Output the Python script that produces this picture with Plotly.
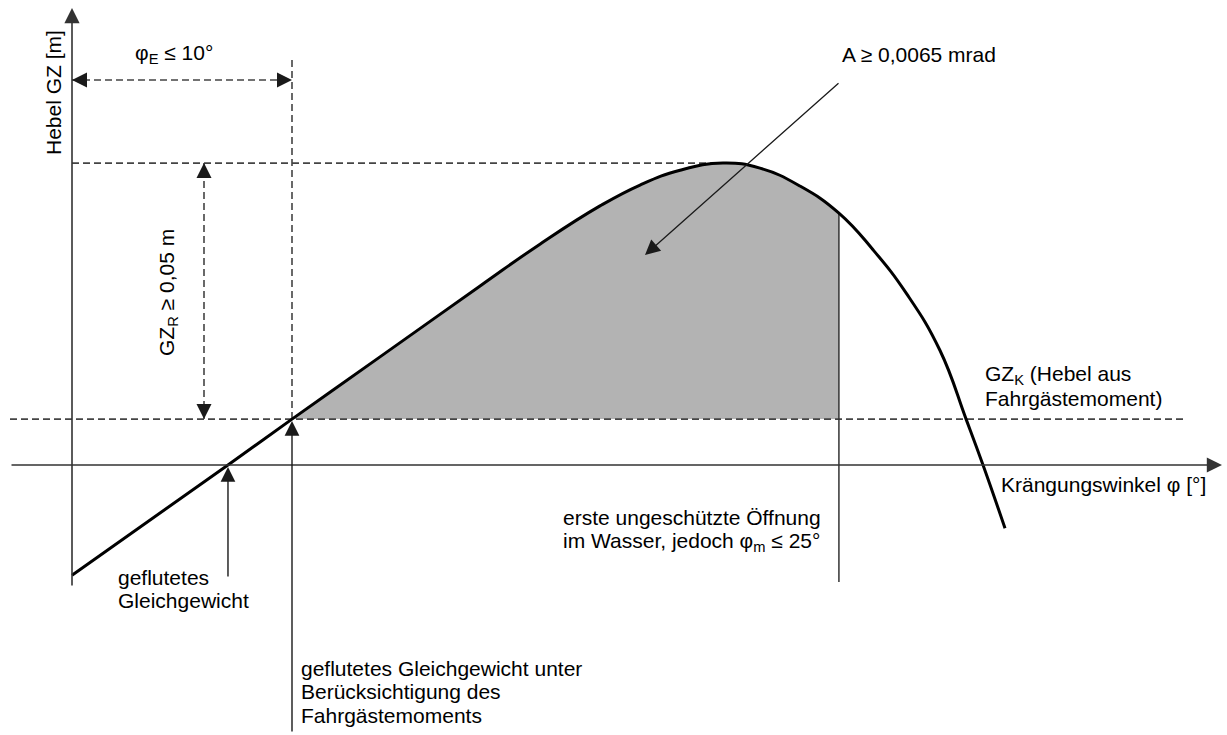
import plotly.graph_objects as go

# ---- data (heeling angle in degrees, righting lever GZ in m) ----
phi = [0.0, 7.09, 10.0, 14.0, 18.55, 21.27, 24.0, 25.82, 27.64, 29.59, 31.27, 33.09,
       34.86, 36.41, 37.95, 39.45, 40.64, 41.41, 42.41]
gz = [-0.0216, 0.0, 0.0090, 0.0212, 0.0351, 0.0433, 0.0508, 0.0549, 0.0578, 0.0592,
      0.0582, 0.0547, 0.0494, 0.0422, 0.0335, 0.0225, 0.0090, 0.0, -0.0124]
phi_E = 10.0        # flooded equilibrium incl. passenger moment
phi_eq = 7.09       # flooded equilibrium
phi_m = 34.86       # first unprotected opening
GZ_K = 0.0090       # heeling lever from passenger moment
GZ_max = 0.0592
phi_at_max = 29.59

W, H = 1227, 735
X0, Y0 = 72, 465          # pixel position of origin
SX, SY = 22.0, 5100.0     # px per degree, px per metre


def dx(px):
    return (px - X0) / SX


def dy(py):
    return (Y0 - py) / SY


FONT = "Liberation Sans, Arial, sans-serif"
AX_COL = "#333333"
DASH_COL = "#444444"
DASH = "7px,4px"
SMOOTH = 1.3

fig = go.Figure()

# shaded area between GZ curve and GZ_K from phi_E to phi_m
fx = [p for p in phi if phi_E <= p <= phi_m]
fy = [g for p, g in zip(phi, gz) if phi_E <= p <= phi_m]
fig.add_trace(go.Scatter(x=[phi_E, phi_m], y=[GZ_K, GZ_K], mode="lines",
                         line=dict(width=0), hoverinfo="skip"))
fig.add_trace(go.Scatter(x=fx, y=fy, mode="lines", fill="tonexty",
                         fillcolor="#b3b3b3",
                         line=dict(width=0, shape="spline", smoothing=SMOOTH),
                         hoverinfo="skip"))

# dashed reference lines
dl = dict(color=DASH_COL, width=1.6, dash=DASH)
fig.add_trace(go.Scatter(x=[dx(10), dx(1183)], y=[GZ_K, GZ_K], mode="lines", line=dl))
fig.add_trace(go.Scatter(x=[0, phi_at_max], y=[GZ_max, GZ_max], mode="lines", line=dl))
fig.add_trace(go.Scatter(x=[phi_E, phi_E], y=[GZ_K, dy(57)], mode="lines", line=dl))
# phi_E dimension line
yE = dy(80)
fig.add_trace(go.Scatter(x=[0, phi_E], y=[yE, yE], mode="lines", line=dl))
# GZ_R dimension line
xR = dx(204)
fig.add_trace(go.Scatter(x=[xR, xR], y=[GZ_K, GZ_max], mode="lines", line=dl))

# vertical line at phi_m
fig.add_trace(go.Scatter(x=[phi_m, phi_m], y=[gz[phi.index(phi_m)], dy(582)], mode="lines",
                         line=dict(color=AX_COL, width=1.5)))

# GZ curve
fig.add_trace(go.Scatter(x=phi, y=gz, mode="lines",
                         line=dict(color="black", width=3, shape="spline", smoothing=SMOOTH)))

annotations = []


def arrow(tip, tail, width=1.5, size=2.0, color="#1a1a1a", ref="x"):
    d = dict(x=tip[0], y=tip[1], xref="x", yref="y", text="", showarrow=True,
             arrowhead=2, arrowsize=size, arrowwidth=width, arrowcolor=color,
             standoff=0, startstandoff=0)
    if ref == "x":
        d.update(ax=tail[0], ay=tail[1], axref="x", ayref="y")
    else:
        d.update(ax=tail[0], ay=tail[1], axref="pixel", ayref="pixel")
    annotations.append(d)


# axes with arrowheads
arrow((dx(1222), 0), (dx(10), 0), width=1.6, size=1.9, color=AX_COL)
arrow((0, dy(8)), (0, dy(587)), width=1.6, size=1.9, color=AX_COL)
# dimension arrowheads (short solid tails under the heads)
arrow((0, yE), (14, 0), ref="pixel")
arrow((phi_E, yE), (-14, 0), ref="pixel")
arrow((xR, GZ_max), (0, 14), ref="pixel")
arrow((xR, GZ_K), (0, -14), ref="pixel")
# pointer arrows
arrow((phi_eq, dy(467)), (phi_eq, dy(578)), width=1.4, size=2.1)
arrow((phi_E, dy(421)), (phi_E, dy(733)), width=1.4, size=2.1)
arrow((dx(645), dy(255)), (dx(840), dy(82)), width=1.3, size=2.3)


def label(text, px, py, xanchor="left", angle=0, size=21):
    annotations.append(dict(text=text, x=px / W, y=1 - py / H, xref="paper", yref="paper",
                            xanchor=xanchor, yanchor="middle", showarrow=False,
                            textangle=angle, font=dict(family=FONT, size=size, color="black")))


label("Hebel GZ [m]", 54, 93, xanchor="center", angle=-90)
label("φ<sub>E</sub> ≤ 10°", 133, 54)
label("GZ<sub>R</sub> ≥ 0,05 m", 168, 293, xanchor="center", angle=-90)
label("A ≥ 0,0065 mrad", 840, 55)
label("GZ<sub>K</sub> (Hebel aus", 983, 375)
label("Fahrgästemoment)", 983, 399)
label("Krängungswinkel φ [°]", 999, 485)
label("erste ungeschützte Öffnung", 561, 517)
label("im Wasser, jedoch φ<sub>m</sub> ≤ 25°", 561, 542)
label("geflutetes", 116, 577)
label("Gleichgewicht", 116, 600)
label("geflutetes Gleichgewicht unter", 299, 668)
label("Berücksichtigung des", 299, 691)
label("Fahrgästemoments", 299, 715)

fig.update_layout(
    width=W, height=H,
    margin=dict(l=0, r=0, t=0, b=0),
    paper_bgcolor="white", plot_bgcolor="white",
    showlegend=False,
    xaxis=dict(range=[dx(0), dx(W)], visible=False, fixedrange=True),
    yaxis=dict(range=[dy(H), dy(0)], visible=False, fixedrange=True),
    annotations=annotations,
)

fig.write_html("out.html", post_script="document.body.style.margin='0';",
               config={"displayModeBar": False})
